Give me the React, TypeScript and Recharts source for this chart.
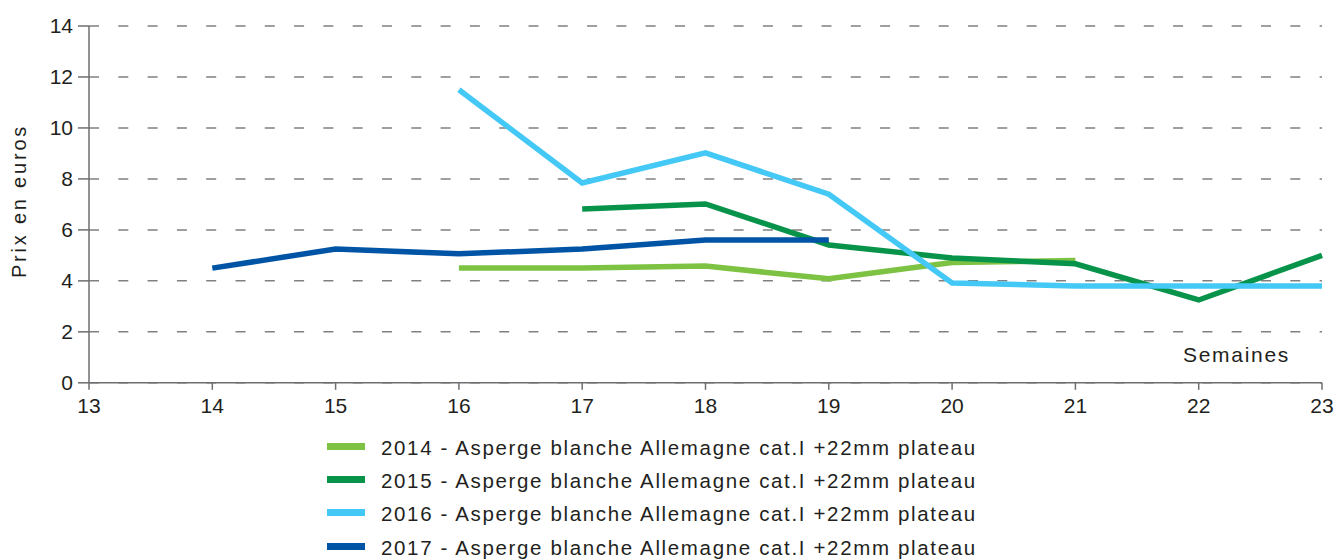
import { CartesianGrid, Label, Legend, Line, LineChart, XAxis, YAxis } from 'recharts';

const weeks = [13, 14, 15, 16, 17, 18, 19, 20, 21, 22, 23];
const prices2014 = [null, null, null, 4.5, 4.5, 4.58, 4.08, 4.72, 4.8, null, null];
const prices2015 = [null, null, null, null, 6.82, 7.02, 5.41, 4.9, 4.67, 3.25, 5.0];
const prices2016 = [null, null, null, 11.5, 7.84, 9.02, 7.4, 3.92, 3.8, 3.8, 3.8];
const prices2017 = [null, 4.5, 5.25, 5.06, 5.25, 5.6, 5.6, null, null, null, null];
const yTicks = [0, 2, 4, 6, 8, 10, 12, 14];

const seriesDefs = [
  { key: 'y2014', name: '2014 - Asperge blanche Allemagne cat.I +22mm plateau', color: '#7dc243' },
  { key: 'y2015', name: '2015 - Asperge blanche Allemagne cat.I +22mm plateau', color: '#07944a' },
  { key: 'y2016', name: '2016 - Asperge blanche Allemagne cat.I +22mm plateau', color: '#44c8f5' },
  { key: 'y2017', name: '2017 - Asperge blanche Allemagne cat.I +22mm plateau', color: '#0054a6' }
];

const data = weeks.map((week, i) => ({
  week,
  y2014: prices2014[i],
  y2015: prices2015[i],
  y2016: prices2016[i],
  y2017: prices2017[i]
}));

const textColor = '#231f20';
const axisColor = '#6d6e71';
const font = '"Liberation Sans", Arial, sans-serif';
const legendRow = 33.3;

function YTitle() {
  return (
    <text
      x={26}
      y={201}
      transform="rotate(-90, 26, 201)"
      textAnchor="middle"
      fill={textColor}
      fontSize={20}
      letterSpacing={2.8}
      fontFamily={font}
    >
      Prix en euros
    </text>
  );
}

function XTitle(props: any) {
  const vb = props.viewBox;
  return (
    <text x={1183} y={vb.y - 21} fill={textColor} fontSize={21} letterSpacing={1.7} fontFamily={font}>
      Semaines
    </text>
  );
}

function LegendList() {
  return (
    <div style={{ fontFamily: font, fontSize: 20.5, letterSpacing: 1.65, color: textColor }}>
      {seriesDefs.map((s) => (
        <div key={s.key} style={{ display: 'flex', alignItems: 'center', height: legendRow, whiteSpace: 'nowrap' }}>
          <span style={{ display: 'inline-block', width: 38, height: 7, background: s.color, marginRight: 16, marginTop: -3 }} />
          <span>{s.name}</span>
        </div>
      ))}
    </div>
  );
}

export default function App() {
  return (
    <div style={{ position: 'absolute', left: 0, top: 0, width: 1338, height: 559, background: '#fff' }}>
      <LineChart width={1338} height={559} data={data} margin={{ top: 26, right: 16, left: 0, bottom: 0 }}>
        <CartesianGrid
          horizontal
          vertical={false}
          stroke="#808080"
          strokeWidth={1.5}
          strokeDasharray="10 19.3"
        />
        <XAxis
          dataKey="week"
          type="number"
          domain={[13, 23]}
          ticks={weeks}
          interval={0}
          height={43}
          tickSize={7}
          tickMargin={8}
          axisLine={{ stroke: axisColor, strokeWidth: 1.5 }}
          tickLine={{ stroke: axisColor, strokeWidth: 1.5 }}
          tick={{ fill: textColor, fontSize: 21, fontFamily: font }}
        >
          <Label content={<XTitle />} />
        </XAxis>
        <YAxis
          domain={[0, 14]}
          ticks={yTicks}
          interval={0}
          width={89}
          tickSize={11}
          tickMargin={5}
          axisLine={{ stroke: axisColor, strokeWidth: 1.5 }}
          tickLine={{ stroke: axisColor, strokeWidth: 1.5 }}
          tick={{ fill: textColor, fontSize: 21, fontFamily: font }}
        >
          <Label content={<YTitle />} />
        </YAxis>
        {seriesDefs.map((s) => (
          <Line
            key={s.key}
            dataKey={s.key}
            name={s.name}
            type="linear"
            stroke={s.color}
            strokeWidth={5.5}
            strokeLinecap="butt"
            strokeLinejoin="miter"
            dot={false}
            activeDot={false}
            connectNulls={false}
            isAnimationActive={false}
          />
        ))}
        <Legend
          content={<LegendList />}
          wrapperStyle={{ position: 'absolute', left: 327, top: 431, width: 700 }}
        />
      </LineChart>
    </div>
  );
}
